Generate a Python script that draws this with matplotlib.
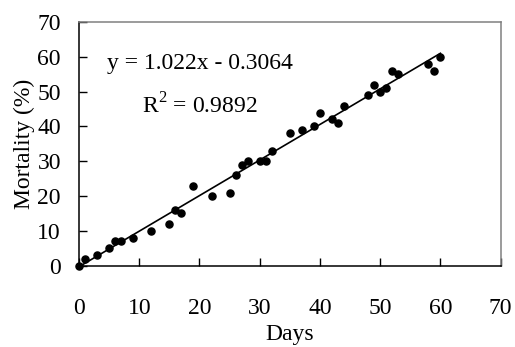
import matplotlib
matplotlib.use("Agg")
import matplotlib.pyplot as plt
import numpy as np

days = [0, 1, 3, 5, 6, 7, 9, 12, 15, 16, 17, 19, 22, 25, 26, 27, 28, 30, 31, 32,
        35, 37, 39, 40, 42, 43, 44, 48, 49, 50, 51, 52, 53, 58, 59, 60]
mortality = [0, 2, 3, 5, 7, 7, 8, 10, 12, 16, 15, 23, 20, 21, 26, 29, 30, 30, 30, 33,
             38, 39, 40, 44, 42, 41, 46, 49, 52, 50, 51, 56, 55, 58, 56, 60]

slope = 1.022
intercept = -0.3064
r_squared = 0.9892

x_ticks = [0, 10, 20, 30, 40, 50, 60, 70]
y_ticks = [0, 10, 20, 30, 40, 50, 60, 70]

plt.rcParams["font.family"] = ["Liberation Serif", "DejaVu Serif"]
plt.rcParams["mathtext.fontset"] = "custom"
plt.rcParams["mathtext.rm"] = "Liberation Serif"

FS = 17

fig = plt.figure(figsize=(5.15, 3.47), dpi=100)
ax = fig.add_axes([0.1534, 0.2343, 0.8188, 0.7023])

ax.scatter(days, mortality, s=26, color="black", zorder=3, clip_on=False)
fit_x = np.array([min(days), max(days)])
ax.plot(fit_x, slope * fit_x + intercept, color="black", lw=1.2, zorder=2)

ax.set_xlim(0, 70)
ax.set_ylim(0, 70)
ax.set_xticks(x_ticks)
ax.set_yticks(y_ticks)
ax.tick_params(direction="in", length=6, width=1, labelsize=FS, color="black")
ax.tick_params(axis="x", pad=23)
ax.tick_params(axis="y", pad=13)

for side in ("left", "bottom"):
    ax.spines[side].set_color("black")
    ax.spines[side].set_linewidth(1.1)
for side in ("top", "right"):
    ax.spines[side].set_color("#808080")
    ax.spines[side].set_linewidth(1.1)

ax.set_xlabel("Days", fontsize=FS, labelpad=4)
ax.set_ylabel("Mortality (%)", fontsize=FS, labelpad=2)

ax.text(0.066, 0.83, f"y = {slope}x - {abs(intercept)}", transform=ax.transAxes,
        fontsize=FS, va="center", ha="left")
ax.text(0.15, 0.655, r"R$^\mathrm{2}$" + f" = {r_squared}", transform=ax.transAxes,
        fontsize=FS, va="center", ha="left")

fig.savefig("out.png", dpi=100)
